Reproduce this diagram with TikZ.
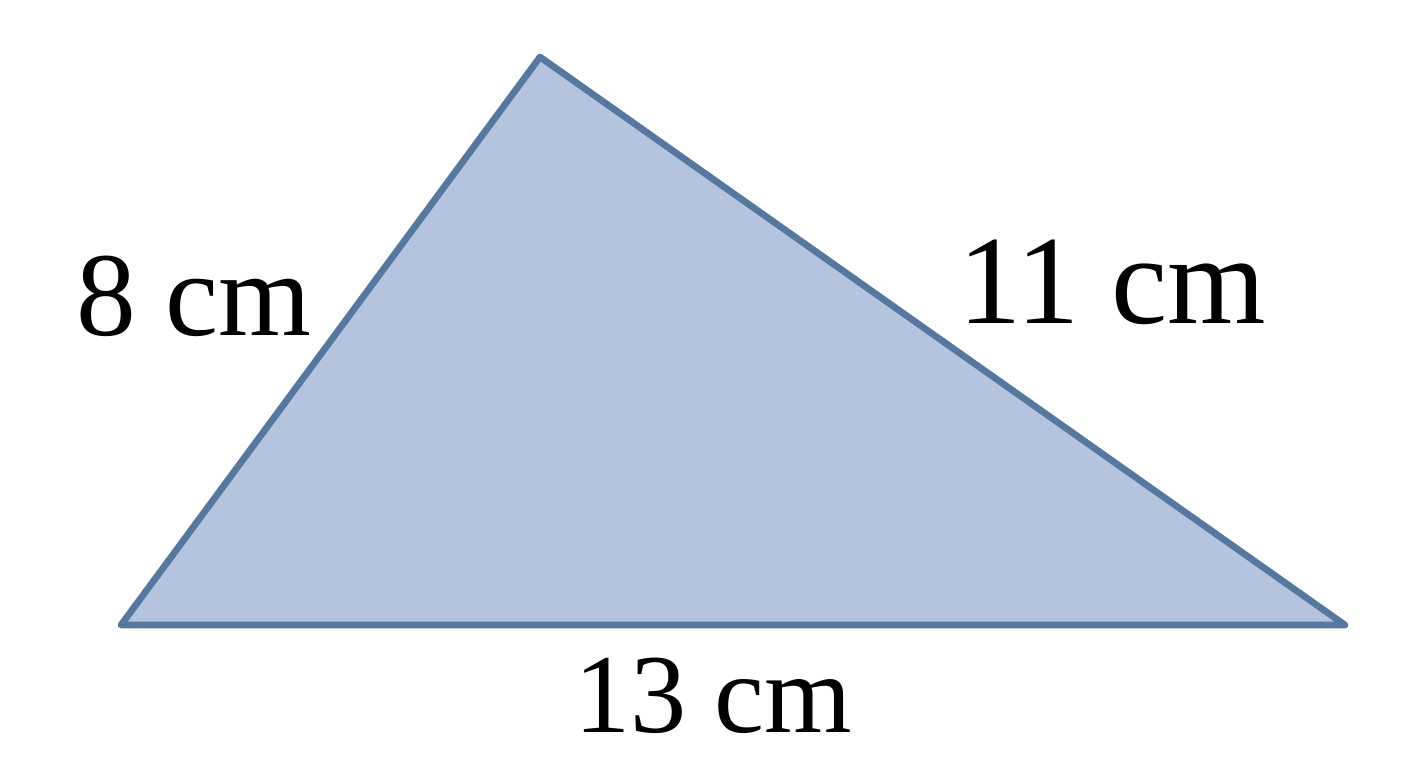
\documentclass[tikz,border=0pt]{standalone}
\usepackage{fontspec}
\setmainfont{Liberation Serif}
\definecolor{edgeblue}{HTML}{56779E}
\definecolor{fillblue}{HTML}{B4C3DE}
\begin{document}
\begin{tikzpicture}[x=0.02cm,y=-0.02cm,
  lab/.style={inner sep=0pt,anchor=center}]
\useasboundingbox[fill=white] (0,0) rectangle (1408,768);
\coordinate (A) at (540,57);
\coordinate (B) at (121,625);
\coordinate (C) at (1345,625);
\filldraw[fill=fillblue,draw=edgeblue,line width=3.8pt,line join=round,line cap=round] (A) -- (B) -- (C) -- cycle;
\node[lab] (l8) at (194,296) {\fontsize{68}{78}\selectfont 8 cm};
\node[lab] (l11) at (1112,282) {\fontsize{72}{82}\selectfont 11 cm};
\node[lab] (l13) at (713,696) {\fontsize{64}{74}\selectfont 13 cm};
\end{tikzpicture}
\end{document}
